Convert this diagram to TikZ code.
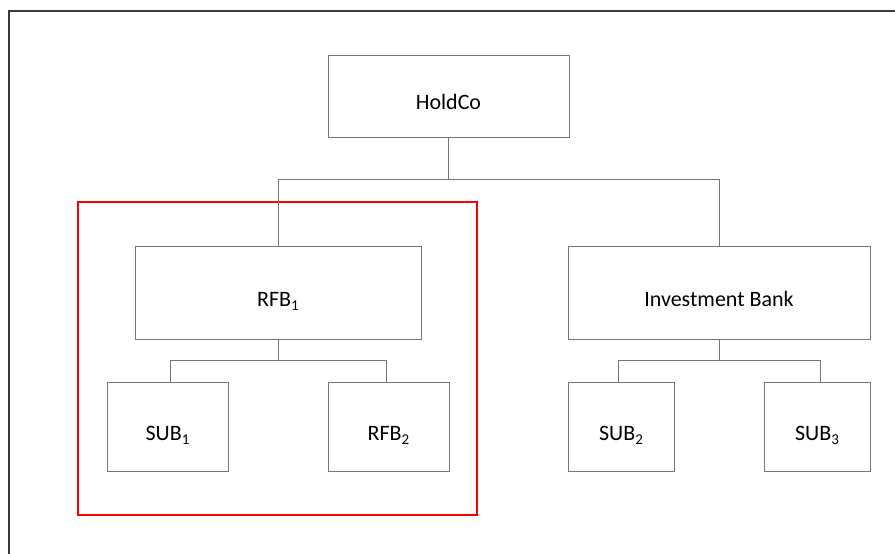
\documentclass[tikz,border=0pt]{standalone}
\usepackage{fontspec}
\setmainfont{Carlito}
\definecolor{lineg}{HTML}{777777}
\definecolor{frameg}{HTML}{3A3A3A}
\newcommand\mysub[1]{\raisebox{-4.5pt}{\fontsize{15}{15}\selectfont #1}}
\begin{document}
\begin{tikzpicture}[x=1pt,y=-1pt,
  box/.style={draw=lineg, line width=1pt, inner sep=0pt, outer sep=0pt,
    text height=27pt, text depth=0pt, font=\fontsize{22}{26}\selectfont},
  conn/.style={draw=lineg, line width=1pt},
  redbox/.style={draw=red, line width=1.6pt}]
\useasboundingbox (0,0) rectangle (895,554);
\draw[frameg, line width=2pt] (895,11) -- (9,11) -- (9,554);
\node[redbox, minimum width=399pt, minimum height=313pt] (grp) at (277.5,358.5) {};
\node[box, minimum width=241pt, minimum height=82pt] (hold) at (448.5,96) {HoldCo};
\node[box, minimum width=286pt, minimum height=93pt] (rfb1) at (278,292.5) {RFB\mysub{1}};
\node[box, minimum width=302pt, minimum height=93pt] (ib) at (719,292.5) {Investment Bank};
\node[box, minimum width=121pt, minimum height=89pt] (sub1) at (167.5,426.5) {SUB\mysub{1}};
\node[box, minimum width=121pt, minimum height=89pt] (rfb2) at (388.5,426.5) {RFB\mysub{2}};
\node[box, minimum width=106pt, minimum height=89pt] (sub2) at (621,426.5) {SUB\mysub{2}};
\node[box, minimum width=106pt, minimum height=89pt] (sub3) at (817,426.5) {SUB\mysub{3}};
\coordinate (j1) at (448.5,179);
\coordinate (j2) at (278,360);
\coordinate (j3) at (719,360);
\draw[conn] (hold.south) -- (j1);
\draw[conn] (j1) -| (rfb1.north);
\draw[conn] (j1) -| (ib.north);
\draw[conn] (rfb1.south) -- (j2);
\draw[conn] (j2) -| ([xshift=2.5pt]sub1.north);
\draw[conn] (j2) -| ([xshift=-2.5pt]rfb2.north);
\draw[conn] (ib.south) -- (j3);
\draw[conn] (j3) -| ([xshift=-3pt]sub2.north);
\draw[conn] (j3) -| ([xshift=3pt]sub3.north);
\end{tikzpicture}
\end{document}
